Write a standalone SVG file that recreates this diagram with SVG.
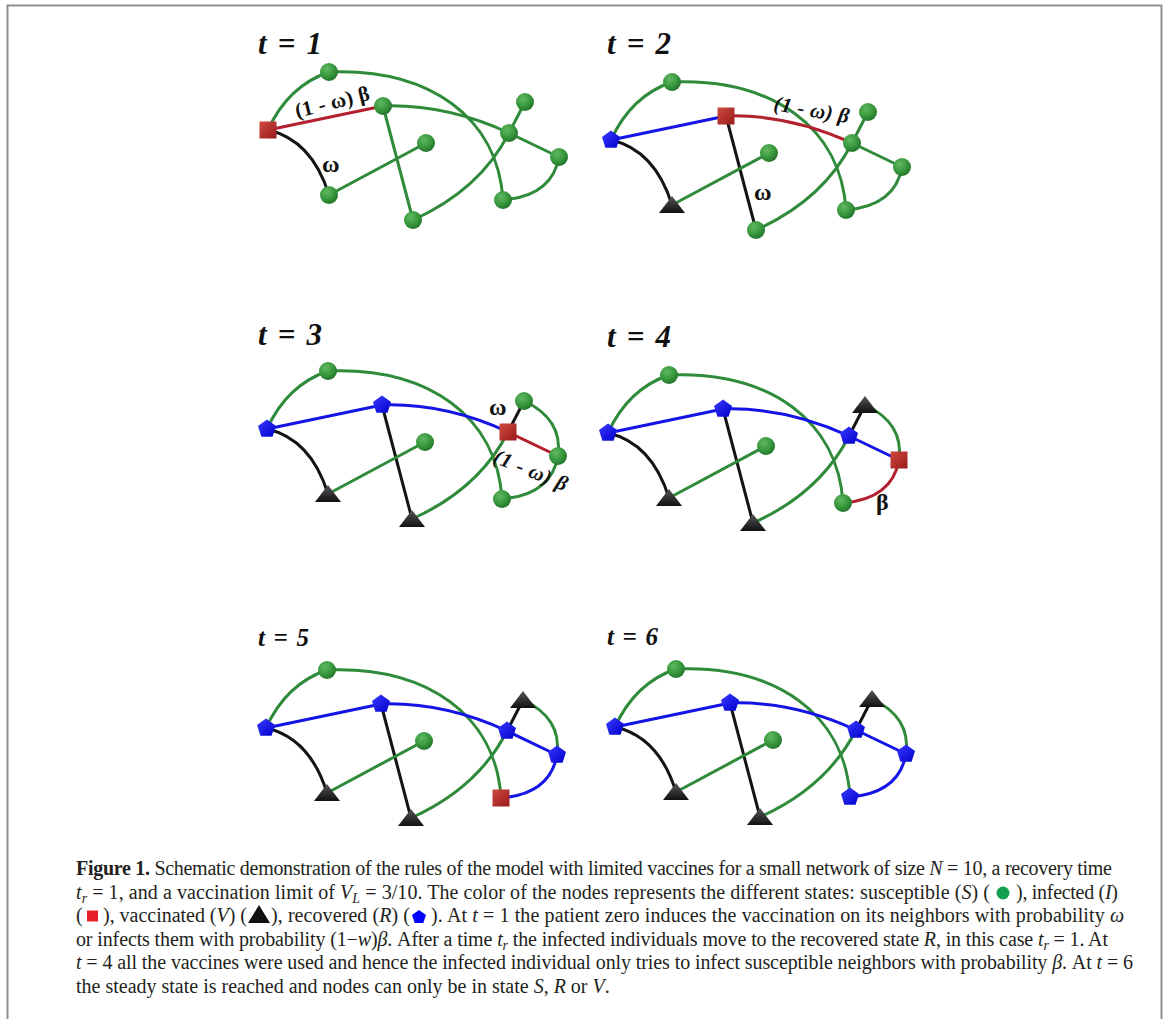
<svg xmlns="http://www.w3.org/2000/svg" xmlns:xlink="http://www.w3.org/1999/xlink" width="1168" height="1019" viewBox="0 0 1168 1019">
<style>
.e{fill:none;stroke-width:3;stroke-linecap:round}
.g{stroke:#2f8a3a}.b{stroke:#1414e6}.r{stroke:#b3202e}.k{stroke:#141414}
.title{font-family:"Liberation Serif","Times New Roman",serif;font-weight:bold;font-style:italic;fill:#111}
.lab{font-family:"Liberation Serif","Times New Roman",serif;font-weight:bold;fill:#111}
.cap{font-family:"Liberation Serif","Times New Roman",serif;font-size:20px;fill:#231f20}
.i{font-style:italic}
</style>
<defs>
<radialGradient id="gS" cx="0.38" cy="0.33" r="0.7"><stop offset="0" stop-color="#62b862"/><stop offset="0.55" stop-color="#3a9a3e"/><stop offset="1" stop-color="#21742a"/></radialGradient>
<linearGradient id="gI" x1="0" y1="0" x2="1" y2="1"><stop offset="0" stop-color="#cf4a40"/><stop offset="1" stop-color="#981a1a"/></linearGradient>
<linearGradient id="gR" x1="0" y1="0" x2="1" y2="1"><stop offset="0" stop-color="#3a3aff"/><stop offset="1" stop-color="#0000cc"/></linearGradient>
<linearGradient id="gV" x1="0" y1="0" x2="0" y2="1"><stop offset="0" stop-color="#555"/><stop offset="1" stop-color="#111"/></linearGradient>
<g id="sS"><circle r="9" fill="url(#gS)"/></g>
<g id="sI"><rect x="-8.5" y="-8.5" width="17" height="17" fill="url(#gI)"/></g>
<g id="sR"><polygon points="0,-9.5 9,-2.9 5.6,7.7 -5.6,7.7 -9,-2.9" fill="url(#gR)"/></g>
<g id="sV"><polygon points="0,-9 13,8 -13,8" fill="url(#gV)"/></g>
</defs>
<rect width="1168" height="1019" fill="#fff"/>
<path d="M7.5,1019 V5.5 H1161.5 V1019" fill="none" stroke="#8e8e8e" stroke-width="2"/>

<!-- Panel titles -->
<text class="title" x="258" y="54" font-size="31" textLength="64" lengthAdjust="spacing">t = 1</text>
<text class="title" x="607" y="54" font-size="31" textLength="64" lengthAdjust="spacing">t = 2</text>
<text class="title" x="258" y="345" font-size="31" textLength="64" lengthAdjust="spacing">t = 3</text>
<text class="title" x="607" y="347" font-size="31" textLength="64" lengthAdjust="spacing">t = 4</text>
<text class="title" x="258" y="646" font-size="25" textLength="51" lengthAdjust="spacing">t = 5</text>
<text class="title" x="607" y="645" font-size="25" textLength="51" lengthAdjust="spacing">t = 6</text>

<!-- Panel 1 -->
<g id="panel1">
<g id="connectors1">
<path class="e g" d="M268,130 Q288,86 329,72"/>
<path class="e r" d="M268,130 L383,106"/>
<path class="e k" d="M268,130 Q312,140 329,195"/>
<path class="e g" d="M329,72 C430,68 498,118 503,200"/>
<path class="e g" d="M383,106 Q446,104 509,133"/>
<path class="e g" d="M383,106 L413,220"/>
<path class="e g" d="M329,195 L426,143"/>
<path class="e g" d="M413,220 Q480,190 509,133"/>
<path class="e g" d="M509,133 L525,102"/>
<path class="e g" d="M509,133 L559,157"/>
<path class="e g" d="M559,157 Q552,196 503,200"/>
</g>
<g id="p1-I"><use href="#sI" x="268" y="130"/></g>
<g id="p1-A"><use href="#sS" x="329" y="72"/></g>
<g id="p1-B"><use href="#sS" x="383" y="106"/></g>
<g id="p1-C"><use href="#sS" x="426" y="143"/></g>
<g id="p1-D"><use href="#sS" x="329" y="195"/></g>
<g id="p1-E"><use href="#sS" x="413" y="220"/></g>
<g id="p1-F"><use href="#sS" x="509" y="133"/></g>
<g id="p1-G"><use href="#sS" x="525" y="102"/></g>
<g id="p1-H"><use href="#sS" x="559" y="157"/></g>
<g id="p1-J"><use href="#sS" x="503" y="200"/></g>
<text class="lab" x="297" y="118" font-size="21" textLength="76" lengthAdjust="spacing" transform="rotate(-14 297 118)">(1 - ω) β</text>
<text class="lab" x="322" y="172" font-size="24">ω</text>
</g>

<!-- Panel 2 -->
<g id="panel2">
<g id="connectors2" transform="translate(343,10)">
<path class="e g" d="M268,130 Q288,86 329,72"/>
<path class="e b" d="M268,130 L383,106"/>
<path class="e k" d="M268,130 Q312,140 329,195"/>
<path class="e g" d="M329,72 C430,68 498,118 503,200"/>
<path class="e r" d="M383,106 Q446,104 509,133"/>
<path class="e k" d="M383,106 L413,220"/>
<path class="e g" d="M329,195 L426,143"/>
<path class="e g" d="M413,220 Q480,190 509,133"/>
<path class="e g" d="M509,133 L525,102"/>
<path class="e g" d="M509,133 L559,157"/>
<path class="e g" d="M559,157 Q552,196 503,200"/>
</g>
<g transform="translate(343,10)">
<g id="p2-I"><use href="#sR" x="268" y="130"/></g>
<g id="p2-A"><use href="#sS" x="329" y="72"/></g>
<g id="p2-B"><use href="#sI" x="383" y="106"/></g>
<g id="p2-C"><use href="#sS" x="426" y="143"/></g>
<g id="p2-D"><use href="#sV" x="329" y="195"/></g>
<g id="p2-E"><use href="#sS" x="413" y="220"/></g>
<g id="p2-F"><use href="#sS" x="509" y="133"/></g>
<g id="p2-G"><use href="#sS" x="525" y="102"/></g>
<g id="p2-H"><use href="#sS" x="559" y="157"/></g>
<g id="p2-J"><use href="#sS" x="503" y="200"/></g>
</g>
<text class="lab i" x="773" y="110" font-size="21" textLength="76" lengthAdjust="spacing" transform="rotate(10 773 110)">(1 - ω) β</text>
<text class="lab" x="754" y="200" font-size="24">ω</text>
</g>

<!-- Panel 3 -->
<g id="panel3">
<g id="connectors3" transform="translate(-1,299)">
<path class="e g" d="M268,130 Q288,86 329,72"/>
<path class="e b" d="M268,130 L383,106"/>
<path class="e k" d="M268,130 Q312,140 329,195"/>
<path class="e g" d="M329,72 C430,68 498,118 503,200"/>
<path class="e b" d="M383,106 Q446,104 509,133"/>
<path class="e k" d="M383,106 L413,220"/>
<path class="e g" d="M329,195 L426,143"/>
<path class="e g" d="M413,220 Q480,190 509,133"/>
<path class="e k" d="M509,133 L525,102"/>
<path class="e r" d="M509,133 L559,157"/>
<path class="e g" d="M559,157 Q552,196 503,200"/>
<path class="e g" d="M525,102 Q564,120 559,157"/>
</g>
<g transform="translate(-1,299)">
<g id="p3-I"><use href="#sR" x="268" y="130"/></g>
<g id="p3-A"><use href="#sS" x="329" y="72"/></g>
<g id="p3-B"><use href="#sR" x="383" y="106"/></g>
<g id="p3-C"><use href="#sS" x="426" y="143"/></g>
<g id="p3-D"><use href="#sV" x="329" y="195"/></g>
<g id="p3-E"><use href="#sV" x="413" y="220"/></g>
<g id="p3-F"><use href="#sI" x="509" y="133"/></g>
<g id="p3-G"><use href="#sS" x="525" y="102"/></g>
<g id="p3-H"><use href="#sS" x="559" y="157"/></g>
<g id="p3-J"><use href="#sS" x="503" y="200"/></g>
</g>
<text class="lab" x="489" y="415" font-size="24">ω</text>
<text class="lab i" x="492" y="462" font-size="21" textLength="78" lengthAdjust="spacing" transform="rotate(22 492 462)">(1 - ω) β</text>
</g>

<!-- Panel 4 -->
<g id="panel4">
<g id="connectors4" transform="translate(340,303)">
<path class="e g" d="M268,130 Q288,86 329,72"/>
<path class="e b" d="M268,130 L383,106"/>
<path class="e k" d="M268,130 Q312,140 329,195"/>
<path class="e g" d="M329,72 C430,68 498,118 503,200"/>
<path class="e b" d="M383,106 Q446,104 509,133"/>
<path class="e k" d="M383,106 L413,220"/>
<path class="e g" d="M329,195 L426,143"/>
<path class="e g" d="M413,220 Q480,190 509,133"/>
<path class="e k" d="M509,133 L525,102"/>
<path class="e b" d="M509,133 L559,157"/>
<path class="e r" d="M559,157 Q552,196 503,200"/>
<path class="e g" d="M525,102 Q564,120 559,157"/>
</g>
<g transform="translate(340,303)">
<g id="p4-I"><use href="#sR" x="268" y="130"/></g>
<g id="p4-A"><use href="#sS" x="329" y="72"/></g>
<g id="p4-B"><use href="#sR" x="383" y="106"/></g>
<g id="p4-C"><use href="#sS" x="426" y="143"/></g>
<g id="p4-D"><use href="#sV" x="329" y="195"/></g>
<g id="p4-E"><use href="#sV" x="413" y="220"/></g>
<g id="p4-F"><use href="#sR" x="509" y="133"/></g>
<g id="p4-G"><use href="#sV" x="525" y="102"/></g>
<g id="p4-H"><use href="#sI" x="559" y="157"/></g>
<g id="p4-J"><use href="#sS" x="503" y="200"/></g>
</g>
<text class="lab" x="876" y="510" font-size="24">β</text>
</g>

<!-- Panel 5 -->
<g id="panel5">
<g id="connectors5" transform="translate(-2,598)">
<path class="e g" d="M268,130 Q288,86 329,72"/>
<path class="e b" d="M268,130 L383,106"/>
<path class="e k" d="M268,130 Q312,140 329,195"/>
<path class="e g" d="M329,72 C430,68 498,118 503,200"/>
<path class="e b" d="M383,106 Q446,104 509,133"/>
<path class="e k" d="M383,106 L413,220"/>
<path class="e g" d="M329,195 L426,143"/>
<path class="e g" d="M413,220 Q480,190 509,133"/>
<path class="e k" d="M509,133 L525,102"/>
<path class="e b" d="M509,133 L559,157"/>
<path class="e b" d="M559,157 Q552,196 503,200"/>
<path class="e g" d="M525,102 Q564,120 559,157"/>
</g>
<g transform="translate(-2,598)">
<g id="p5-I"><use href="#sR" x="268" y="130"/></g>
<g id="p5-A"><use href="#sS" x="329" y="72"/></g>
<g id="p5-B"><use href="#sR" x="383" y="106"/></g>
<g id="p5-C"><use href="#sS" x="426" y="143"/></g>
<g id="p5-D"><use href="#sV" x="329" y="195"/></g>
<g id="p5-E"><use href="#sV" x="413" y="220"/></g>
<g id="p5-F"><use href="#sR" x="509" y="133"/></g>
<g id="p5-G"><use href="#sV" x="525" y="102"/></g>
<g id="p5-H"><use href="#sR" x="559" y="157"/></g>
<g id="p5-J"><use href="#sI" x="503" y="200"/></g>
</g>
</g>

<!-- Panel 6 -->
<g id="panel6">
<g id="connectors6" transform="translate(347,597)">
<path class="e g" d="M268,130 Q288,86 329,72"/>
<path class="e b" d="M268,130 L383,106"/>
<path class="e k" d="M268,130 Q312,140 329,195"/>
<path class="e g" d="M329,72 C430,68 498,118 503,200"/>
<path class="e b" d="M383,106 Q446,104 509,133"/>
<path class="e k" d="M383,106 L413,220"/>
<path class="e g" d="M329,195 L426,143"/>
<path class="e g" d="M413,220 Q480,190 509,133"/>
<path class="e k" d="M509,133 L525,102"/>
<path class="e b" d="M509,133 L559,157"/>
<path class="e b" d="M559,157 Q552,196 503,200"/>
<path class="e g" d="M525,102 Q564,120 559,157"/>
</g>
<g transform="translate(347,597)">
<g id="p6-I"><use href="#sR" x="268" y="130"/></g>
<g id="p6-A"><use href="#sS" x="329" y="72"/></g>
<g id="p6-B"><use href="#sR" x="383" y="106"/></g>
<g id="p6-C"><use href="#sS" x="426" y="143"/></g>
<g id="p6-D"><use href="#sV" x="329" y="195"/></g>
<g id="p6-E"><use href="#sV" x="413" y="220"/></g>
<g id="p6-F"><use href="#sR" x="509" y="133"/></g>
<g id="p6-G"><use href="#sV" x="525" y="102"/></g>
<g id="p6-H"><use href="#sR" x="559" y="157"/></g>
<g id="p6-J"><use href="#sR" x="503" y="200"/></g>
</g>
</g>

<!-- Caption -->
<g id="caption" class="cap">
<text x="76" y="875" textLength="1036" lengthAdjust="spacing"><tspan font-weight="bold">Figure 1.</tspan> Schematic demonstration of the rules of the model with limited vaccines for a small network of size <tspan class="i">N</tspan> = 10, a recovery time</text>
<text x="76" y="898.5" textLength="914" lengthAdjust="spacing"><tspan class="i">t</tspan><tspan class="i" font-size="14" dy="4">r</tspan><tspan dy="-4"> = 1, and a vaccination limit of </tspan><tspan class="i">V</tspan><tspan class="i" font-size="14" dy="4">L</tspan><tspan dy="-4"> = 3/10. The color of the nodes represents the different states: susceptible (</tspan><tspan class="i">S</tspan>) (</text>
<circle cx="1003" cy="893" r="6.5" fill="#13a04f"/>
<text x="1016" y="898.5" textLength="102" lengthAdjust="spacing">), infected (<tspan class="i">I</tspan>)</text>
<text x="76" y="922">(</text>
<rect x="87" y="910.5" width="11" height="11" fill="#e8202a"/>
<text x="103" y="922" textLength="144" lengthAdjust="spacing">), vaccinated (<tspan class="i">V</tspan>) (</text>
<polygon points="248,923 270,923 259,905" fill="#111"/>
<text x="271" y="922" textLength="139" lengthAdjust="spacing">), recovered (<tspan class="i">R</tspan>) (</text>
<polygon points="419,910 426,915 423.3,923 414.7,923 412,915" fill="#0000ff"/>
<text x="431" y="922" textLength="693" lengthAdjust="spacing">). At <tspan class="i">t</tspan> = 1 the patient zero induces the vaccination on its neighbors with probability <tspan class="i">ω</tspan></text>
<text x="76" y="945.5" textLength="1032" lengthAdjust="spacing">or infects them with probability (1−<tspan class="i">w</tspan>)<tspan class="i">β</tspan>. After a time <tspan class="i">t</tspan><tspan class="i" font-size="14" dy="4">r</tspan><tspan dy="-4"> the infected individuals move to the recovered state </tspan><tspan class="i">R</tspan>, in this case <tspan class="i">t</tspan><tspan class="i" font-size="14" dy="4">r</tspan><tspan dy="-4"> = 1. At</tspan></text>
<text x="76" y="969" textLength="1057" lengthAdjust="spacing"><tspan class="i">t</tspan> = 4 all the vaccines were used and hence the infected individual only tries to infect susceptible neighbors with probability <tspan class="i">β</tspan>. At <tspan class="i">t</tspan> = 6</text>
<text x="76" y="992.5">the steady state is reached and nodes can only be in state <tspan class="i">S</tspan>, <tspan class="i">R</tspan> or <tspan class="i">V</tspan>.</text>
</g>
</svg>
